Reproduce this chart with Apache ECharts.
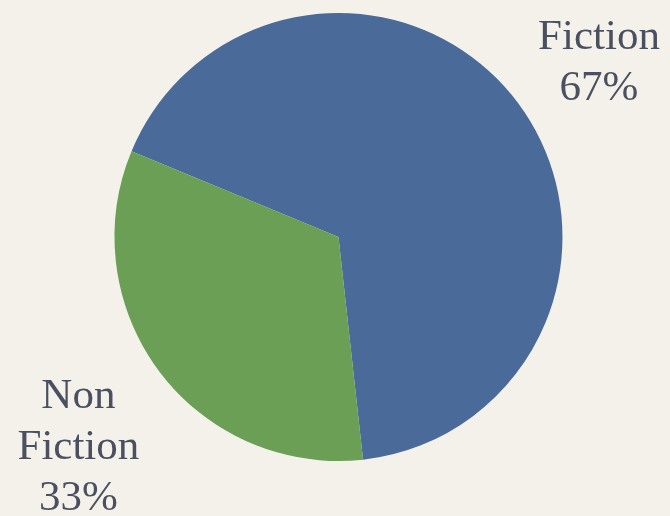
<!DOCTYPE html>
<html>
<head>
<meta charset="utf-8">
<script src="https://cdn.jsdelivr.net/npm/echarts@6/dist/echarts.min.js"></script>
<style>
  html, body { margin: 0; padding: 0; background: #f4f1eb; }
  #chart { width: 670px; height: 516px; }
</style>
</head>
<body>
<div id="chart"></div>
<script>
// Share of books by genre
const categories = ['Fiction', 'Non\nFiction'];
const shares = [67, 33];
const sliceColors = ['#4a6a9a', '#6b9f55'];

// Where each label block is centred, as fractions of the canvas
const labelAnchors = [[0.894, 0.122], [0.117, 0.868]];

const chart = echarts.init(document.getElementById('chart'), null, { renderer: 'canvas' });

chart.setOption({
  backgroundColor: '#f4f1eb',
  animation: false,
  series: [{
    type: 'pie',
    center: ['50.52%', '45.93%'],
    radius: 224,
    startAngle: 157.5,
    clockwise: true,
    data: categories.map((name, i) => ({
      name: name,
      value: shares[i],
      itemStyle: { color: sliceColors[i] }
    })),
    itemStyle: { borderWidth: 0 },
    label: {
      show: true,
      position: 'outside',
      alignTo: 'none',
      overflow: 'none',
      formatter: (p) => p.name + '\n' + p.value + '%',
      fontFamily: '"Liberation Serif", serif',
      fontSize: 43,
      lineHeight: 51,
      color: '#4b5060',
      align: 'center'
    },
    labelLine: { show: false },
    labelLayout: (params) => {
      const w = chart.getWidth();
      const h = chart.getHeight();
      const a = labelAnchors[params.dataIndex];
      return { x: a[0] * w, y: a[1] * h, align: 'center', verticalAlign: 'middle' };
    },
    emphasis: { disabled: true }
  }]
});
</script>
</body>
</html>
